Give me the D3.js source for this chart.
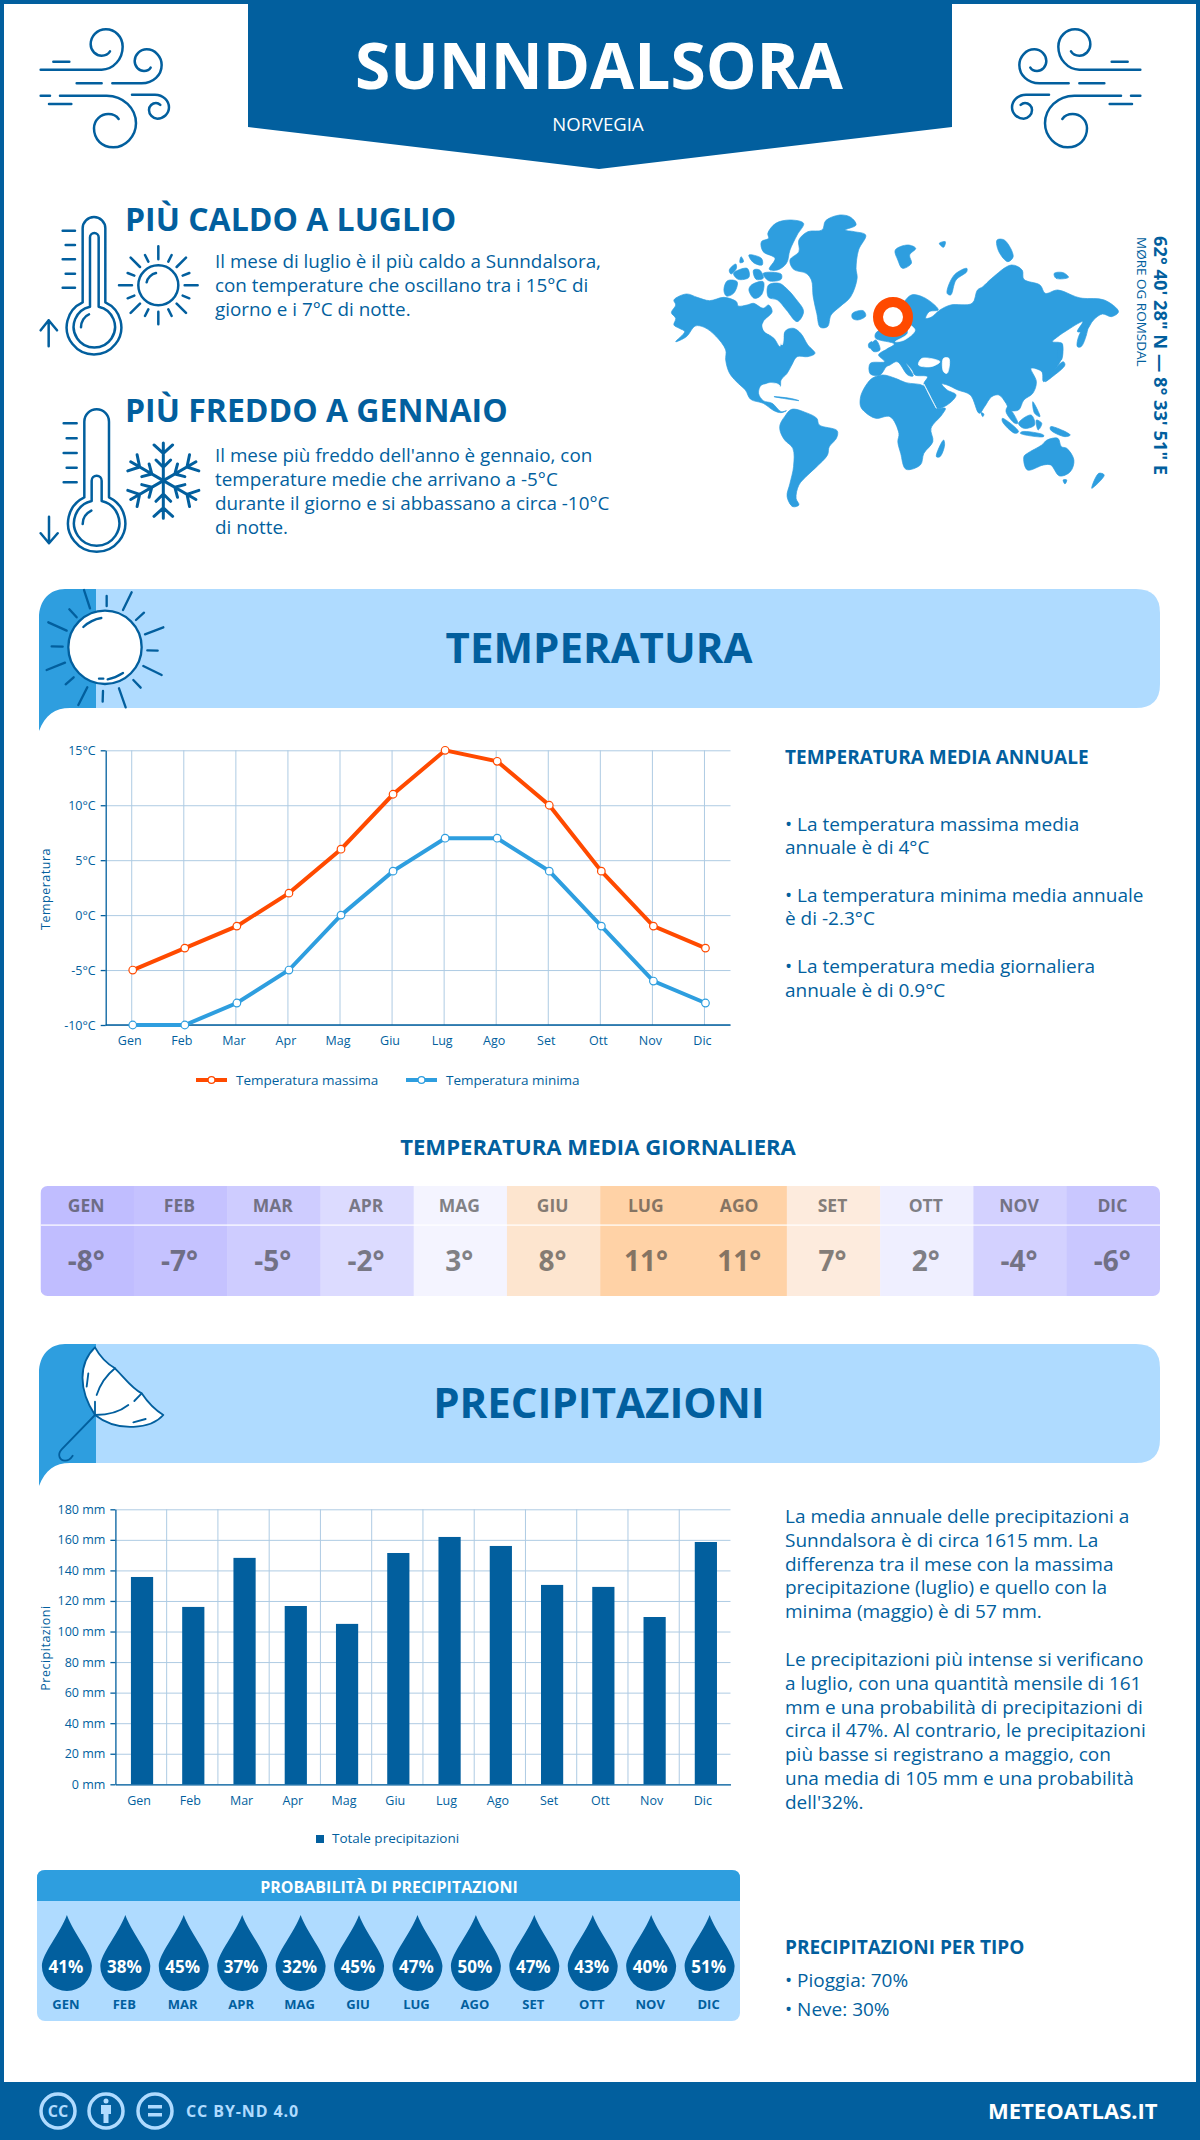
<!DOCTYPE html>
<html>
<head>
<meta charset="utf-8">
<script src="https://cdn.jsdelivr.net/npm/d3@7/dist/d3.min.js"></script>
<style>
    html, body { margin: 0; padding: 0; background: #fff; }
    svg { display: block; }
    text { font-family: "Open Sans", sans-serif; fill: #025f9e; }
    .grid line { stroke: #aecbe3; stroke-width: 1; }
    .grid path { display: none; }
    .axis path, .axis line { stroke: #025f9e; stroke-width: 1.3; }
    .axis text { font-size: 12.5px; fill: #025f9e; }
    .icon { fill: none; stroke: #025f9e; stroke-linecap: round; stroke-linejoin: round; }
</style>
</head>
<body>
<svg id="page" width="1200" height="2140"></svg>
<script>
const months = [ 'Gen', 'Feb', 'Mar', 'Apr', 'Mag', 'Giu', 'Lug', 'Ago', 'Set', 'Ott', 'Nov', 'Dic' ];
const tempMax = [ -5, -3, -1, 2, 6, 11, 15, 14, 10, 4, -1, -3 ];
const tempMin = [ -10, -10, -8, -5, 0, 4, 7, 7, 4, -1, -6, -8 ];
const tempDaily = [ -8, -7, -5, -2, 3, 8, 11, 11, 7, 2, -4, -6 ];
const tempTicks = [ -10, -5, 0, 5, 10, 15 ];
const rainTotal = [ 135.7, 116.1, 148.2, 116.7, 105, 151.4, 161.9, 156, 130.5, 129.2, 109.5, 158.6 ];
const rainTicks = [ 0, 20, 40, 60, 80, 100, 120, 140, 160, 180 ];
const rainChance = [ 41, 38, 45, 37, 32, 45, 47, 50, 47, 43, 40, 51 ];

const hotText = [
    'Il mese di luglio è il più caldo a Sunndalsora,',
    'con temperature che oscillano tra i 15°C di',
    'giorno e i 7°C di notte.'
];
const coldText = [
    'Il mese più freddo dell\'anno è gennaio, con',
    'temperature medie che arrivano a -5°C',
    'durante il giorno e si abbassano a circa -10°C',
    'di notte.'
];
const tempNotes = [
    [ '• La temperatura massima media', 831 ],
    [ 'annuale è di 4°C', 854 ],
    [ '• La temperatura minima media annuale', 902 ],
    [ 'è di -2.3°C', 925 ],
    [ '• La temperatura media giornaliera', 973 ],
    [ 'annuale è di 0.9°C', 997 ]
];
const rainNotes = [
    [ 'La media annuale delle precipitazioni a', 1523 ],
    [ 'Sunndalsora è di circa 1615 mm. La', 1547 ],
    [ 'differenza tra il mese con la massima', 1571 ],
    [ 'precipitazione (luglio) e quello con la', 1594 ],
    [ 'minima (maggio) è di 57 mm.', 1618 ],
    [ 'Le precipitazioni più intense si verificano', 1666 ],
    [ 'a luglio, con una quantità mensile di 161', 1690 ],
    [ 'mm e una probabilità di precipitazioni di', 1714 ],
    [ 'circa il 47%. Al contrario, le precipitazioni', 1737 ],
    [ 'più basse si registrano a maggio, con', 1761 ],
    [ 'una media di 105 mm e una probabilità', 1785 ],
    [ 'dell\'32%.', 1809 ]
];

// continents traced by eye, in crop coordinates (see drawMap)
const mapShapes = [
    'M88 368L100 345L95 330L130 312L160 322L195 332L235 322L270 335L275 348L300 345L318 340L345 355L360 345L370 365L345 395L345 420L375 445L392 470L400 440L410 420L430 415L450 430L470 465L490 490L470 500L440 500L425 525L412 550L395 570L392 590L370 582L340 585L332 610L345 632L370 640L395 665L410 662L395 668L375 662L345 640L310 628L295 600L270 575L250 548L240 510L240 480L212 438L180 412L155 408L130 440L100 455L125 425L110 415L95 405L100 385Z',
    'M420 210L445 185L445 150L470 125L510 120L520 92L560 75L590 82L605 105L575 120L600 125L632 135L612 180L605 235L608 265L590 320L560 350L535 375L525 410L505 412L495 370L485 320L480 270L465 250L430 238Z',
    'M358 130L380 100L420 90L458 100L440 135L420 180L410 220L385 240L362 238L378 205L345 185L340 155L360 145Z',
    'M360 285L390 280L410 295L435 325L458 365L440 395L410 360L385 330L360 322Z',
    'M235 300L245 272L272 275L262 310L242 318Z', 'M250 240L268 222L270 235L255 252Z', 'M262 250L300 235L305 262L275 268Z',
    'M318 240L335 240L345 265L325 268Z', 'M345 250L395 252L395 268L360 272Z', 'M305 195L340 205L342 225L318 218Z',
    'M312 285L345 275L340 315L320 325L305 300Z', 'M283 200L290 215L280 218Z',
    'M595 370L625 362L632 378L610 390L595 385Z',
    'M715 180L750 165L772 175L755 195L760 220L735 235L722 210Z',
    'M860 310L880 255L915 235L915 245L885 270L870 315Z',
    'M1000 150L1020 150L1045 200L1030 215L1005 185Z', 'M838 160L855 155L850 172Z', 'M1160 250L1185 248L1200 262L1165 265Z',
    'M645 552L645 520L685 515L668 495L690 478L712 462L660 445L660 430L700 400L730 350L760 315L790 320L825 345L835 360L810 365L800 385L815 382L840 360L870 345L930 340L945 300L960 290L985 265L1040 225L1070 240L1075 268L1120 285L1135 310L1170 300L1220 320L1240 325L1300 330L1340 365L1320 380L1295 372L1270 390L1250 420L1225 425L1240 395L1190 425L1170 440L1155 455L1180 460L1180 505L1165 535L1130 575L1125 545L1095 535L1110 575L1100 610L1075 630L1060 660L1035 660L1025 640L1005 615L985 620L965 650L950 670L925 615L890 600L860 585L845 582L860 600L885 615L860 645L830 655L810 610L795 582L805 560L770 555L762 540L745 520L765 558L750 555L720 515L700 525L690 530L672 555Z',
    'M645 470L660 450L672 480L655 485Z', 'M640 462L650 455L650 472L642 474Z',
    'M1225 470L1230 435L1255 400L1250 435L1235 470Z',
    'M1135 575L1185 515L1190 525L1155 560Z', 'M1175 460L1182 460L1180 510L1172 510Z',
    'M617 625L625 600L650 565L680 555L715 565L745 578L795 588L815 625L830 655L855 655L845 675L815 715L820 755L795 790L785 825L745 838L730 790L722 755L725 730L700 680L660 685L632 668L618 650Z',
    'M830 800L850 750L853 765L840 800Z',
    'M392 705L405 680L425 658L465 668L495 685L502 705L552 722L550 745L530 770L525 795L495 830L470 855L445 885L437 925L445 945L428 950L412 920L420 880L430 830L428 775L405 750L393 725Z',
    'M375 620L420 625L445 632L400 625Z',
    'M1075 800L1085 790L1125 765L1140 750L1170 745L1180 770L1195 775L1215 810L1205 845L1175 858L1150 825L1130 825L1085 840Z',
    'M1265 895L1300 855L1285 850Z', 'M1185 870L1195 870L1190 882Z', 'M955 668L963 672L960 680Z',
    'M1015 685L1060 725L1050 730L1015 695Z', 'M1065 730L1130 740L1130 735L1070 725Z', 'M1060 700L1095 675L1105 705L1075 715Z',
    'M1150 710L1205 735L1190 740L1150 720Z', 'M1100 635L1120 680L1105 670Z', 'M1110 690L1125 700L1115 720Z',
    'M1030 650L1058 700L1050 700L1025 665Z'
];
const mapHoles = [
    'M790 505L840 515L815 530L780 525Z', 'M850 505L865 505L860 550L850 545Z',
    'M745 400L770 420L740 450L715 455L750 430Z', 'M345 400L385 395L400 420L398 465L385 440L350 425Z',
    'M795 582L830 655L815 625Z', 'M360 580L390 585L390 600L360 625L340 600Z'
];

const svg = d3.select( '#page' );
const blue = '#025f9e';
const midBlue = '#2e9edf';
const paleBlue = '#afdbff';
const orange = '#ff4a00';

function drawFrame() {
    svg.append( 'rect' ).attr( 'x', 2 ).attr( 'y', 2 ).attr( 'width', 1196 ).attr( 'height', 2100 )
        .attr( 'fill', 'none' ).attr( 'stroke', blue ).attr( 'stroke-width', 4 );
    svg.append( 'rect' ).attr( 'x', 0 ).attr( 'y', 2082 ).attr( 'width', 1200 ).attr( 'height', 58 ).attr( 'fill', blue );
    svg.append( 'path' ).attr( 'd', 'M248 0H952V127L599 169L248 127Z' ).attr( 'fill', blue );
    svg.append( 'text' ).attr( 'x', 599 ).attr( 'y', 89 ).attr( 'text-anchor', 'middle' )
        .attr( 'font-size', 64 ).attr( 'font-weight', 700 ).style( 'fill', '#fff' ).text( 'SUNNDALSORA' );
    svg.append( 'text' ).attr( 'x', 598 ).attr( 'y', 131 ).attr( 'text-anchor', 'middle' )
        .attr( 'font-size', 18.5 ).style( 'fill', '#fff' ).text( 'NORVEGIA' );

    svg.append( 'text' ).attr( 'x', 988 ).attr( 'y', 2119 ).attr( 'font-size', 22 ).attr( 'font-weight', 700 )
        .style( 'fill', '#fff' ).text( 'METEOATLAS.IT' );
    svg.append( 'text' ).attr( 'x', 186 ).attr( 'y', 2117 ).attr( 'font-size', 16 ).attr( 'font-weight', 700 )
        .attr( 'letter-spacing', 0.9 ).style( 'fill', paleBlue ).text( 'CC BY-ND 4.0' );

    const badges = svg.append( 'g' ).attr( 'fill', 'none' ).attr( 'stroke', paleBlue ).attr( 'stroke-width', 3.5 );
    [ 58, 106, 155 ].forEach( x => badges.append( 'circle' ).attr( 'cx', x ).attr( 'cy', 2111 ).attr( 'r', 17 ) );
    svg.append( 'text' ).attr( 'x', 58 ).attr( 'y', 2117 ).attr( 'text-anchor', 'middle' ).attr( 'font-size', 16 )
        .attr( 'font-weight', 700 ).style( 'fill', paleBlue ).text( 'CC' );
    svg.append( 'circle' ).attr( 'cx', 106 ).attr( 'cy', 2101 ).attr( 'r', 2.5 ).attr( 'fill', paleBlue );
    svg.append( 'path' ).attr( 'd', 'M101 2105H111V2114H108.5V2123H103.5V2114H101Z' ).attr( 'fill', paleBlue );
    svg.append( 'path' ).attr( 'd', 'M148 2105H162V2108.5H148ZM148 2113H162V2116.5H148Z' ).attr( 'fill', paleBlue );
}

function drawWind( transform ) {
    svg.append( 'g' ).attr( 'class', 'icon' ).attr( 'transform', transform ).attr( 'stroke-width', 7.5 )
        .append( 'path' ).attr( 'd', [
            'M70 140H118',
            'M32 164H215C250 164 278 132 278 95C278 65 255 43 228 43C200 43 182 65 182 88C182 108 198 122 215 122C225 122 235 117 240 109',
            'M140 205H215',
            'M247 205H335C370 205 395 180 395 150C395 125 375 103 350 103C330 103 314 120 314 138C314 155 327 168 342 168C350 168 358 165 362 158',
            'M32 242H60',
            'M90 242H230C280 242 318 280 318 325C318 365 285 397 250 397C215 397 192 372 192 340C192 315 212 297 235 297C250 297 260 303 266 312',
            'M57 267H124',
            'M306 239H375C400 239 417 258 417 277C417 297 400 311 382 311C368 311 357 298 357 285C357 273 367 264 378 264C384 264 388 267 391 270'
        ].join( '' ) );
}

function drawSummaryIcons() {
    const g = svg.append( 'g' ).attr( 'class', 'icon' ).attr( 'transform', 'translate(30,205) scale(0.3333)' )
        .attr( 'stroke-width', 7.5 );
    g.append( 'path' ).attr( 'd', [
        'M158 292V70A34 34 0 0 1 226 70V292A82 82 0 1 1 158 292',
        'M180 305V97A13 13 0 0 1 206 97V305A62 62 0 1 1 180 305',
        'M153 367C153 350 163 333 177 328',
        'M98 77H135M107 120H135M98 163H135M107 206H135M98 248H135',
        'M56 424V346M32 376L56 346L81 376',
        'M385 124V163M385 320V358M267 241H306M464 241H503M302 158L330 186M468 158L440 186M302 324L330 296M468 324L440 296',
        'M345 150L355 170M425 150L415 170M293 204L313 212M478 204L458 212M293 280L313 272M478 280L458 272M345 333L355 313M425 333L415 313',
        'M350 232C352 218 365 207 378 204',
        'M163 877V650A37 37 0 0 1 237 650V877A86 86 0 1 1 163 877',
        'M185 888V827A15 15 0 0 1 215 827V888A68 68 0 1 1 185 888',
        'M158 957C158 940 168 925 184 917',
        'M101 655H140M110 700H140M101 744H140M110 788H140M101 832H140',
        'M57 935V1015M32 985L57 1015L83 985'
    ].join( '' ) );
    g.append( 'circle' ).attr( 'cx', 385 ).attr( 'cy', 241 ).attr( 'r', 60 );
    d3.range( 6 ).forEach( i => {
        g.append( 'path' ).attr( 'transform', `translate(400,827) rotate(${i * 60})` ).attr( 'stroke-width', 9 )
            .attr( 'd', 'M0 0V-113M-28 -107L0 -82L28 -107M-22 -62L0 -40L22 -62' );
    } );
}

function drawSummaryText() {
    const blocks = [
        { head: 'PIÙ CALDO A LUGLIO', y: 231, lines: hotText, first: 268 },
        { head: 'PIÙ FREDDO A GENNAIO', y: 422, lines: coldText, first: 462 }
    ];
    blocks.forEach( b => {
        svg.append( 'text' ).attr( 'x', 125 ).attr( 'y', b.y ).attr( 'font-size', 32 ).attr( 'font-weight', 700 ).text( b.head );
        b.lines.forEach( ( line, i ) => {
            svg.append( 'text' ).attr( 'x', 215 ).attr( 'y', b.first + i * 24 ).attr( 'font-size', 18.85 ).text( line );
        } );
    } );
}

function smoothShape( d ) {
    const points = d.match( /[\d.]+ [\d.]+/g ).map( p => p.split( ' ' ).map( Number ) );
    return d3.line().curve( d3.curveCatmullRomClosed.alpha( 0.5 ) )( points );
}

function drawMap() {
    const g = svg.append( 'g' ).attr( 'transform', 'translate(640,190) scale(0.3571,0.3333)' )
        .attr( 'stroke-linejoin', 'round' );
    g.selectAll( 'path.land' ).data( mapShapes ).enter().append( 'path' )
        .attr( 'class', 'land' ).attr( 'd', smoothShape ).attr( 'fill', midBlue )
        .attr( 'stroke', midBlue ).attr( 'stroke-width', 2 );
    g.selectAll( 'path.hole' ).data( mapHoles ).enter().append( 'path' )
        .attr( 'class', 'hole' ).attr( 'd', smoothShape ).attr( 'fill', '#fff' )
        .attr( 'stroke', '#fff' ).attr( 'stroke-width', 2 );

    svg.append( 'circle' ).attr( 'cx', 893 ).attr( 'cy', 317 ).attr( 'r', 15 )
        .attr( 'fill', '#fff' ).attr( 'stroke', orange ).attr( 'stroke-width', 10 );

    svg.append( 'text' ).attr( 'transform', 'translate(1154,236) rotate(90)' ).attr( 'font-size', 18.3 ).attr( 'font-weight', 700 )
        .text( '62° 40\' 28" N — 8° 33\' 51" E' );
    svg.append( 'text' ).attr( 'transform', 'translate(1137,237) rotate(90)' ).attr( 'font-size', 13.5 )
        .text( 'MØRE OG ROMSDAL' );
}

function drawBand( y0, title ) {
    const h = 119;
    svg.append( 'path' ).attr( 'fill', paleBlue )
        .attr( 'd', `M96 ${y0}H1136Q1160 ${y0} 1160 ${y0 + 24}V${y0 + h - 24}Q1160 ${y0 + h} 1136 ${y0 + h}H96Z` );
    svg.append( 'path' ).attr( 'fill', midBlue )
        .attr( 'd', `M39 ${y0 + h + 23}C45 ${y0 + h + 7} 55 ${y0 + h} 70 ${y0 + h}H96V${y0}H65C50 ${y0} 39 ${y0 + 11} 39 ${y0 + 29}Z` );
    svg.append( 'text' ).attr( 'x', 599 ).attr( 'y', y0 + 74 ).attr( 'text-anchor', 'middle' )
        .attr( 'font-size', 42 ).attr( 'font-weight', 700 ).text( title );
}

function drawBandIcons() {
    const sun = svg.append( 'g' ).attr( 'class', 'icon' ).attr( 'transform', 'translate(35,585) scale(0.3333)' ).attr( 'stroke-width', 7 );
    sun.append( 'circle' ).attr( 'cx', 210 ).attr( 'cy', 187 ).attr( 'r', 110 ).attr( 'fill', '#fff' );
    sun.append( 'path' ).attr( 'd', [
        'M147 15L165 70M290 22L264 75M385 127L330 148M380 270L325 243M272 367L252 310M130 360L157 307M35 255L90 233M40 112L95 137',
        'M103 73L125 97M215 33V63M327 83L303 105M368 197L337 196M317 308L295 285M203 350L204 318M92 298L116 277M50 184L83 185',
        'M145 126C160 112 180 102 199 99M218 283C235 280 250 273 264 264M192 281H205'
    ].join( '' ) );

    const brolly = svg.append( 'g' ).attr( 'class', 'icon' ).attr( 'transform', 'translate(35,1340) scale(0.3333)' ).attr( 'stroke-width', 5.5 );
    brolly.append( 'path' ).attr( 'fill', '#fff' )
        .attr( 'd', 'M180 22C195 50 215 70 240 85C270 115 290 145 320 160C340 190 360 210 385 225C350 265 250 280 180 225C130 150 130 70 180 22Z' );
    brolly.append( 'path' ).attr( 'd', [
        'M240 85C215 105 195 135 185 165M180 185V225M180 225C220 225 255 215 280 195M298 183L320 160',
        'M160 100L155 140M295 247L332 237',
        'M180 225L80 328C65 345 75 362 90 362C100 362 108 355 113 347'
    ].join( '' ) );
}

function drawTempChart() {
    const x = d3.scaleBand().domain( months ).range( [ 105.7, 730.5 ] );
    const y = d3.scaleLinear().domain( [ -10, 15 ] ).range( [ 1025, 750.3 ] );

    svg.append( 'g' ).attr( 'class', 'grid' ).attr( 'transform', 'translate(105.7,0)' )
        .call( d3.axisLeft( y ).tickValues( tempTicks ).tickSize( -624.8 ).tickFormat( '' ) );
    svg.append( 'g' ).attr( 'class', 'grid' ).attr( 'transform', 'translate(0,1025)' )
        .call( d3.axisBottom( x ).tickSize( -274.7 ).tickFormat( '' ) );

    const yAxis = svg.append( 'g' ).attr( 'class', 'axis' ).attr( 'transform', 'translate(105.7,0)' )
        .call( d3.axisLeft( y ).tickValues( tempTicks ).tickSize( 5 ).tickSizeOuter( 0 ).tickFormat( d => `${d}°C` ) );
    yAxis.selectAll( 'text' ).attr( 'dx', -2 );
    svg.append( 'line' ).attr( 'x1', 105.7 ).attr( 'x2', 730.5 ).attr( 'y1', 1025 ).attr( 'y2', 1025 )
        .attr( 'stroke', blue ).attr( 'stroke-width', 1.5 );

    const xAxis = svg.append( 'g' ).attr( 'class', 'axis' ).attr( 'transform', 'translate(0,1025)' )
        .call( d3.axisBottom( x ).tickSize( 0 ).tickPadding( 11.5 ) );
    xAxis.select( '.domain' ).remove();
    xAxis.selectAll( 'text' ).attr( 'dx', -2 );

    svg.append( 'text' ).attr( 'transform', 'translate(50,889) rotate(-90)' ).attr( 'text-anchor', 'middle' )
        .attr( 'font-size', 12.5 ).attr( 'letter-spacing', 0.5 ).text( 'Temperatura' );

    const line = d3.line().x( ( d, i ) => x( months[ i ] ) + x.bandwidth() / 2 + 1 ).y( d => y( d ) );
    const series = [
        { values: tempMax, color: orange, label: 'Temperatura massima', lx: 196 },
        { values: tempMin, color: midBlue, label: 'Temperatura minima', lx: 406 }
    ];
    // min goes first so the max line stays on top
    series.slice().reverse().forEach( s => {
        svg.append( 'path' ).attr( 'd', line( s.values ) ).attr( 'fill', 'none' )
            .attr( 'stroke', s.color ).attr( 'stroke-width', 4 );
        svg.selectAll( null ).data( s.values ).enter().append( 'circle' )
            .attr( 'cx', ( d, i ) => x( months[ i ] ) + x.bandwidth() / 2 + 1 )
            .attr( 'cy', d => y( d ) ).attr( 'r', 3.8 )
            .attr( 'fill', '#fff' ).attr( 'stroke', s.color ).attr( 'stroke-width', 1.2 );
    } );
    series.forEach( s => {
        svg.append( 'line' ).attr( 'x1', s.lx ).attr( 'x2', s.lx + 31 ).attr( 'y1', 1080 ).attr( 'y2', 1080 )
            .attr( 'stroke', s.color ).attr( 'stroke-width', 4 );
        svg.append( 'circle' ).attr( 'cx', s.lx + 15.5 ).attr( 'cy', 1080 ).attr( 'r', 3.4 )
            .attr( 'fill', '#fff' ).attr( 'stroke', s.color ).attr( 'stroke-width', 1.2 );
        svg.append( 'text' ).attr( 'x', s.lx + 40 ).attr( 'y', 1085 ).attr( 'font-size', 13.5 ).text( s.label );
    } );
}

function drawDailyTable() {
    svg.append( 'text' ).attr( 'x', 598 ).attr( 'y', 1155 ).attr( 'text-anchor', 'middle' )
        .attr( 'font-size', 22.1 ).attr( 'font-weight', 700 ).text( 'TEMPERATURA MEDIA GIORNALIERA' );

    const x = d3.scaleBand().domain( months ).range( [ 40.5, 1160 ] );
    const color = d3.scaleLinear().domain( [ -8, 4.5, 11 ] ).range( [ '#c0bdff', '#fbfbff', '#ffd2a6' ] );
    svg.append( 'clipPath' ).attr( 'id', 'tableClip' ).append( 'rect' )
        .attr( 'x', 40.5 ).attr( 'y', 1186 ).attr( 'width', 1119.5 ).attr( 'height', 110 ).attr( 'rx', 7 );
    const table = svg.append( 'g' ).attr( 'clip-path', 'url(#tableClip)' );
    table.selectAll( 'rect' ).data( tempDaily ).enter().append( 'rect' )
        .attr( 'x', ( d, i ) => x( months[ i ] ) ).attr( 'y', 1186 )
        .attr( 'width', x.bandwidth() + 0.5 ).attr( 'height', 110 ).attr( 'fill', d => color( d ) );
    table.append( 'rect' ).attr( 'x', 40.5 ).attr( 'y', 1224.5 ).attr( 'width', 1119.5 ).attr( 'height', 1.2 ).attr( 'fill', '#fff' );

    tempDaily.forEach( ( d, i ) => {
        const cx = x( months[ i ] ) + x.bandwidth() / 2 - 1;
        svg.append( 'text' ).attr( 'x', cx ).attr( 'y', 1212 ).attr( 'text-anchor', 'middle' )
            .attr( 'font-size', 17.5 ).attr( 'font-weight', 700 ).style( 'fill', '#3b3b3b' ).style( 'opacity', 0.62 )
            .text( months[ i ].toUpperCase() );
        svg.append( 'text' ).attr( 'x', cx ).attr( 'y', 1271 ).attr( 'text-anchor', 'middle' )
            .attr( 'font-size', 28 ).attr( 'font-weight', 700 ).style( 'fill', '#3b3b3b' ).style( 'opacity', 0.62 )
            .text( `${d}°` );
    } );
}

function drawRainChart() {
    const x = d3.scaleBand().domain( months ).range( [ 115.4, 730.5 ] );
    const y = d3.scaleLinear().domain( [ 0, 180 ] ).range( [ 1784.3, 1509.3 ] );

    svg.append( 'g' ).attr( 'class', 'grid' ).attr( 'transform', 'translate(115.4,0)' )
        .call( d3.axisLeft( y ).tickValues( rainTicks ).tickSize( -615.1 ).tickFormat( '' ) );
    svg.append( 'g' ).selectAll( 'line' ).data( months.slice( 1 ) ).enter().append( 'line' )
        .attr( 'x1', d => x( d ) ).attr( 'x2', d => x( d ) )
        .attr( 'y1', y( 180 ) ).attr( 'y2', y( 0 ) )
        .attr( 'stroke', '#aecbe3' ).attr( 'stroke-width', 1 );

    const yAxis = svg.append( 'g' ).attr( 'class', 'axis' ).attr( 'transform', 'translate(115.4,0)' )
        .call( d3.axisLeft( y ).tickValues( rainTicks ).tickSize( 5 ).tickSizeOuter( 0 ).tickFormat( d => `${d} mm` ) );
    yAxis.selectAll( 'text' ).attr( 'dx', -2 );

    svg.selectAll( null ).data( rainTotal ).enter().append( 'rect' )
        .attr( 'x', ( d, i ) => x( months[ i ] ) + x.bandwidth() / 2 - 10.1 )
        .attr( 'y', d => y( d ) ).attr( 'width', 22.2 ).attr( 'height', d => y( 0 ) - y( d ) )
        .attr( 'fill', blue );

    const xAxis = svg.append( 'g' ).attr( 'class', 'axis' ).attr( 'transform', 'translate(0,1784.3)' )
        .call( d3.axisBottom( x ).tickSize( 0 ).tickPadding( 12 ) );
    xAxis.select( '.domain' ).attr( 'stroke-width', 1.5 );
    xAxis.selectAll( 'text' ).attr( 'dx', -2 );

    svg.append( 'text' ).attr( 'transform', 'translate(50,1648) rotate(-90)' ).attr( 'text-anchor', 'middle' )
        .attr( 'font-size', 12.5 ).attr( 'letter-spacing', 0.5 ).text( 'Precipitazioni' );

    svg.append( 'rect' ).attr( 'x', 316 ).attr( 'y', 1835 ).attr( 'width', 8 ).attr( 'height', 8 ).attr( 'fill', blue );
    svg.append( 'text' ).attr( 'x', 332 ).attr( 'y', 1843 ).attr( 'font-size', 13.5 ).text( 'Totale precipitazioni' );
}

function drawChanceBox() {
    svg.append( 'rect' ).attr( 'x', 37 ).attr( 'y', 1870 ).attr( 'width', 703 ).attr( 'height', 151 ).attr( 'rx', 8 ).attr( 'fill', paleBlue );
    svg.append( 'path' ).attr( 'fill', midBlue ).attr( 'd', 'M37 1901V1878Q37 1870 45 1870H732Q740 1870 740 1878V1901Z' );
    svg.append( 'text' ).attr( 'x', 389 ).attr( 'y', 1893 ).attr( 'text-anchor', 'middle' ).attr( 'font-size', 16 )
        .attr( 'font-weight', 700 ).style( 'fill', '#fff' ).text( 'PROBABILITÀ DI PRECIPITAZIONI' );

    const x = d3.scalePoint().domain( months ).range( [ 66.9, 709.6 ] );
    rainChance.forEach( ( d, i ) => {
        const cx = x( months[ i ] );
        svg.append( 'path' ).attr( 'transform', `translate(${cx},1966)` ).attr( 'fill', blue )
            .attr( 'd', 'M0 -51C6 -34 25 -12 25 0A25 25 0 1 1 -25 0C-25 -12 -6 -34 0 -51Z' );
        svg.append( 'text' ).attr( 'x', cx - 1 ).attr( 'y', 1973 ).attr( 'text-anchor', 'middle' ).attr( 'font-size', 17 )
            .attr( 'font-weight', 700 ).style( 'fill', '#fff' ).text( `${d}%` );
        svg.append( 'text' ).attr( 'x', cx - 1 ).attr( 'y', 2009 ).attr( 'text-anchor', 'middle' ).attr( 'font-size', 13 )
            .attr( 'font-weight', 700 ).text( months[ i ].toUpperCase() );
    } );
}

function drawNotes() {
    svg.append( 'text' ).attr( 'x', 785 ).attr( 'y', 764 ).attr( 'font-size', 19 ).attr( 'font-weight', 700 ).text( 'TEMPERATURA MEDIA ANNUALE' );
    tempNotes.concat( rainNotes ).forEach( ( [ line, y ] ) => {
        svg.append( 'text' ).attr( 'x', 785 ).attr( 'y', y ).attr( 'font-size', 19 ).text( line );
    } );
    svg.append( 'text' ).attr( 'x', 785 ).attr( 'y', 1954 ).attr( 'font-size', 19 ).attr( 'font-weight', 700 ).text( 'PRECIPITAZIONI PER TIPO' );
    svg.append( 'text' ).attr( 'x', 785 ).attr( 'y', 1987 ).attr( 'font-size', 19 ).text( '• Pioggia: 70%' );
    svg.append( 'text' ).attr( 'x', 785 ).attr( 'y', 2016 ).attr( 'font-size', 19 ).text( '• Neve: 30%' );
}

drawFrame();
drawWind( 'translate(30,15) scale(0.3333)' );
drawWind( 'translate(1151,15) scale(-0.3333,0.3333)' );
drawSummaryIcons();
drawSummaryText();
drawMap();
drawBand( 589, 'TEMPERATURA' );
drawBand( 1344, 'PRECIPITAZIONI' );
drawBandIcons();
drawTempChart();
drawDailyTable();
drawRainChart();
drawChanceBox();
drawNotes();
</script>
</body>
</html>
